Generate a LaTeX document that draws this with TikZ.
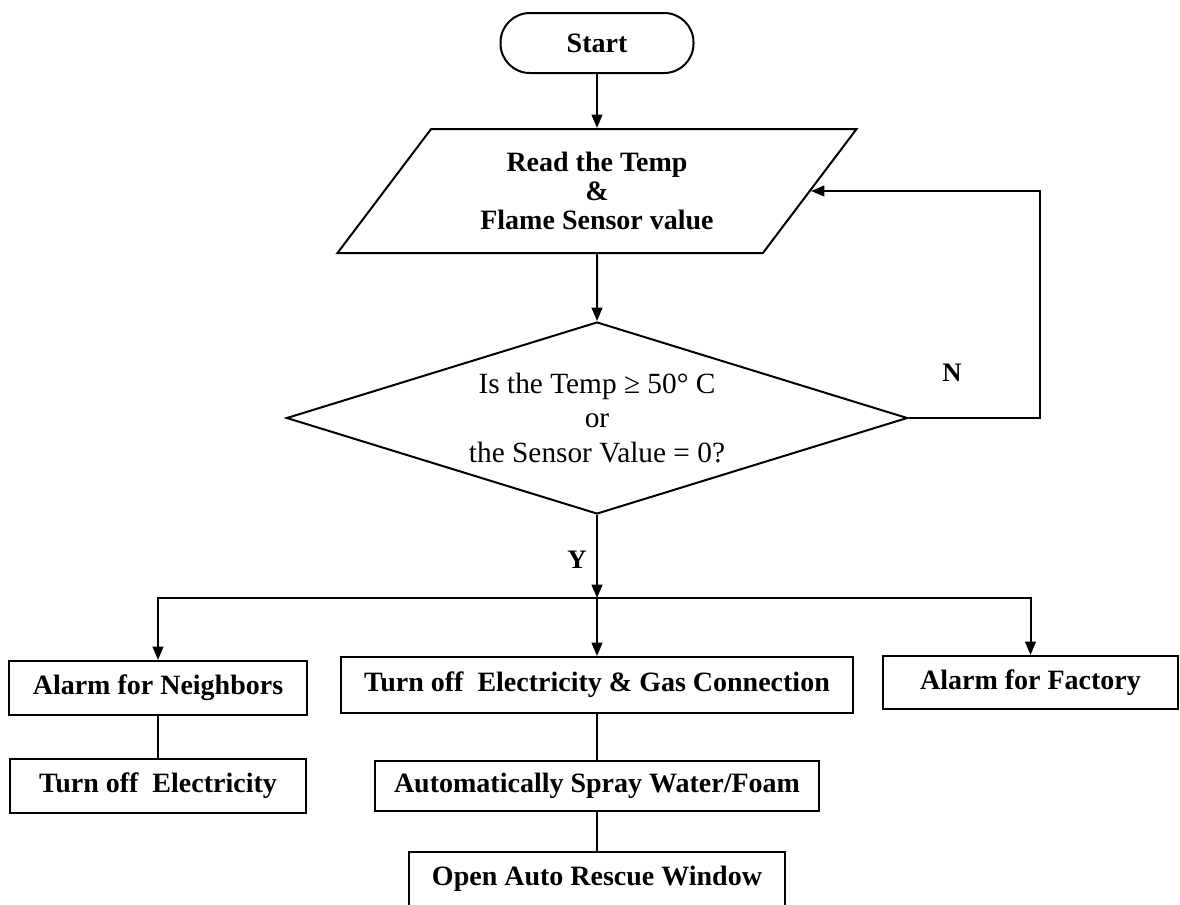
\documentclass[tikz,border=0pt]{standalone}
\usepackage{fontspec}
\setmainfont{Liberation Serif}
\usetikzlibrary{shapes.geometric,arrows.meta}

\begin{document}
\begin{tikzpicture}[x=0.75pt,y=0.75pt,yscale=-1,xscale=1,
  line width=1.5pt, >={Triangle[length=10pt,width=8pt]},
  box/.style={draw,rectangle,inner sep=0pt,font=\fontsize{21}{25}\selectfont\bfseries},
  lbl/.style={inner sep=0.75pt,font=\fontsize{20}{24}\selectfont\bfseries}]
\useasboundingbox (0,0) rectangle (1180,904);
% Terminal
\node [box,rounded corners=22pt,minimum width=144.75pt,minimum height=45pt] (start) at (597,43) {Start};
% Input
\node [draw,trapezium,trapezium left angle=50,trapezium right angle=130,trapezium stretches=true,
  minimum width=390pt,minimum height=93pt,inner sep=0pt,align=center,
  font=\fontsize{21}{22}\selectfont\bfseries] (read) at (597,191) {Read the Temp\\\&\\Flame Sensor value};
% Decision
\node [draw,diamond,aspect=3.23,minimum width=465.75pt,minimum height=144pt,inner sep=0pt,align=center,
  font=\fontsize{22}{26}\selectfont] (dec) at (597,418) {Is the Temp ≥ 50° C\\or\\the Sensor Value = 0?};
% Actions
\node [box,minimum width=223.5pt,minimum height=40.5pt] (neigh) at (158,688) {Alarm for Neighbors};
\node [box,minimum width=384pt,minimum height=42pt] (gas) at (597,685) {Turn off~ Electricity \& Gas Connection};
\node [box,minimum width=221.25pt,minimum height=39.75pt] (factory) at (1030.5,682.5) {Alarm for Factory};
\node [box,minimum width=222pt,minimum height=40.5pt] (elec) at (158,786) {Turn off~ Electricity};
\node [box,minimum width=333pt,minimum height=37.5pt] (spray) at (597,786) {Automatically Spray Water/Foam};
\node [box,minimum width=282pt,minimum height=40.5pt] (rescue) at (597,879) {Open Auto Rescue Window};
\coordinate (split) at (597,598);
\coordinate (nloop) at (1040,300);
% Labels
\node [lbl] (nlab) at (952,373) {N};
\node [lbl] (ylab) at (577,560) {Y};
% Flow
\draw[->] (start) -- (read);
\draw[->] (read) -- (dec);
\draw[->] (dec.east) -| (nloop) |- (read.east);
\draw[->] (dec.south) -- (split);
\draw[->] (split) -| (neigh.north);
\draw[->] (split) -- (gas.north);
\draw[->] (split) -| (factory.north);
\draw (neigh) -- (elec);
\draw (gas) -- (spray);
\draw (spray) -- (rescue);
\end{tikzpicture}
\end{document}
